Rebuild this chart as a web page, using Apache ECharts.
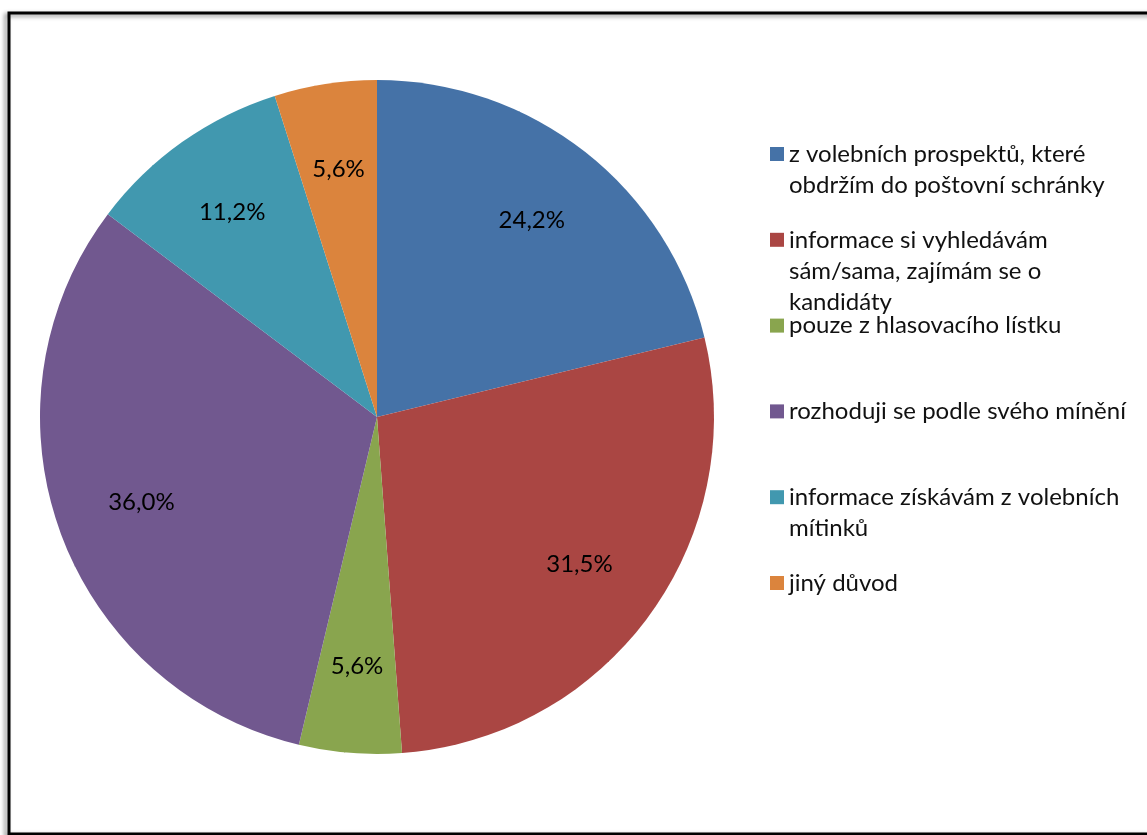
<!DOCTYPE html>
<html>
<head>
<meta charset="utf-8">
<script src="https://cdn.jsdelivr.net/npm/echarts@6/dist/echarts.min.js"></script>
<style>
  html, body { margin: 0; padding: 0; background: #fff; }
  #chart { width: 1147px; height: 835px; }
</style>
</head>
<body>
<div id="chart"></div>
<script>
  // data (percent of respondents, multiple answers allowed)
  var categories = [
    'z volebních prospektů, které obdržím do poštovní schránky',
    'informace si vyhledávám sám/sama, zajímám se o kandidáty',
    'pouze z hlasovacího lístku',
    'rozhoduji se podle svého mínění',
    'informace získávám z volebních mítinků',
    'jiný důvod'
  ];
  var values = [24.2, 31.5, 5.6, 36.0, 11.2, 5.6];
  // legend text, wrapped the same way as in the original
  var legendLabels = [
    'z volebních prospektů, které\nobdržím do poštovní schránky',
    'informace si vyhledávám\nsám/sama, zajímám se o\nkandidáty',
    'pouze z hlasovacího lístku',
    'rozhoduji se podle svého mínění',
    'informace získávám z volebních\nmítinků',
    'jiný důvod'
  ];
  var colors = ['#4572A7', '#AA4643', '#89A54E', '#71588F', '#4198AF', '#DB843D'];

  var FONT = 'Lato';
  var cx = 377, cy = 417, R = 337;
  var lineH = 31;

  var myChart = echarts.init(document.getElementById('chart'));

  // one legend per item so every entry sits on its own fixed row;
  // empty lines in front keep the marker level with the first text line
  var legends = categories.map(function (name, i) {
    var n = legendLabels[i].split('\n').length;
    var yc = 154 + 85.8 * i;
    var pad = '';
    for (var k = 1; k < n; k++) pad += ' \n';
    return {
      left: 765,
      top: yc - 5 - (2 * n - 1) * lineH / 2,
      orient: 'vertical',
      icon: 'rect',
      itemWidth: 14,
      itemHeight: 14,
      selectedMode: false,
      data: [name],
      formatter: function () { return pad + legendLabels[i]; },
      textStyle: {
        fontFamily: FONT,
        fontSize: 24,
        color: '#111',
        lineHeight: lineH
      }
    };
  });

  var options = {
    animation: false,
    color: colors,
    legend: legends,
    graphic: [{
      type: 'rect',
      shape: { x: 9, y: 13, width: 1160, height: 821 },
      style: {
        fill: 'transparent',
        stroke: '#000',
        lineWidth: 3,
        shadowBlur: 4,
        shadowColor: 'rgba(0,0,0,0.45)',
        shadowOffsetX: -3,
        shadowOffsetY: 2
      },
      z: 100
    }],
    series: [{
      type: 'pie',
      center: [cx, cy],
      radius: [0, R],
      startAngle: 90,
      clockwise: true,
      itemStyle: { borderWidth: 0 },
      label: {
        show: true,
        position: 'inside',
        fontFamily: FONT,
        fontSize: 24,
        color: '#000',
        formatter: function (p) {
          return p.value.toFixed(1).replace('.', ',') + '%';
        }
      },
      // push the inside labels further out, like the original
      labelLayout: function (p) {
        var r = p.labelRect;
        var lx = r.x + r.width / 2, ly = r.y + r.height / 2;
        return {
          x: cx + (lx - cx) * 1.46,
          y: cy + (ly - cy) * 1.46,
          align: 'center',
          verticalAlign: 'middle'
        };
      },
      emphasis: { disabled: true },
      data: categories.map(function (name, i) {
        return { name: name, value: values[i] };
      })
    }]
  };
  myChart.setOption(options, true);
  window.addEventListener('resize', function () {
    myChart.resize();
  });
</script>
</body>
</html>
